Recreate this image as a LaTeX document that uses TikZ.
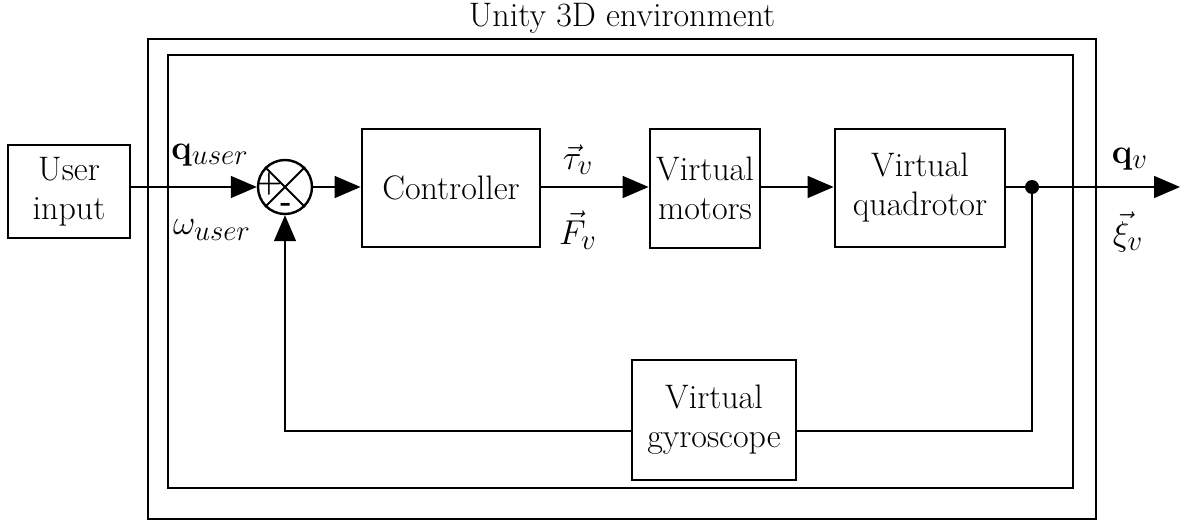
\documentclass[tikz,border=0pt]{standalone}
\usetikzlibrary{arrows.meta}
\begin{document}
\begin{tikzpicture}[x=0.5pt,y=-0.5pt,
  blk/.style={draw,line width=1.4pt,align=center,inner sep=0pt,font=\fontsize{17}{19.5}\selectfont},
  frm/.style={draw,line width=0.8pt},
  con/.style={line width=0.75pt},
  arr/.style={con,-{Triangle[length=13pt,width=11pt]}},
  lbl/.style={font=\fontsize{17}{19.5}\selectfont,inner sep=0pt}]
\useasboundingbox (0,0) rectangle (1189,524);
\draw[frm] (148,39) rectangle (1096,519);
\draw[frm] (168,55) rectangle (1073,488);
\node[lbl] (env) at (622,18) {Unity 3D environment};
\node[blk,minimum width=61pt,minimum height=46.5pt] (user) at (69,191.5) {User\\input};
\node[blk,minimum width=89pt,minimum height=59pt] (ctrl) at (451,188) {Controller};
\node[blk,minimum width=55pt,minimum height=59.5pt] (mot) at (705,188.5) {Virtual\\motors};
\node[blk,minimum width=85pt,minimum height=59pt] (quad) at (920,188) {Virtual\\quadrotor};
\node[blk,minimum width=82pt,minimum height=60pt] (gyro) at (714,420) {Virtual\\gyroscope};
\node[draw,line width=1.2pt,circle,minimum size=27pt,inner sep=0pt] (sum) at (285,187) {};
\draw[line width=1pt] (sum.north west) -- (sum.south east) (sum.north east) -- (sum.south west);
\node[inner sep=0pt,font=\fontsize{15}{15}\selectfont\bfseries] (plus) at (269,184) {+};
\node[inner sep=0pt,font=\fontsize{15}{15}\selectfont\bfseries] (minus) at (286,207) {-};
\coordinate (ue) at (user.east |- sum);
\coordinate (ce) at (ctrl.east |- sum);
\coordinate (mw) at (mot.west |- sum);
\coordinate (me) at (mot.east |- sum);
\coordinate (qw) at (quad.west |- sum);
\coordinate (qe) at (quad.east |- sum);
\coordinate (dot) at (1032,187);
\coordinate (out) at (1180,187);
\coordinate (fb1) at (1032,431);
\coordinate (fb2) at (285,431);
\draw[arr] (ue) -- (sum.west);
\draw[arr] (sum.east) -- (ctrl.west |- sum);
\draw[arr] (ce) -- (mw);
\draw[arr] (me) -- (qw);
\draw[arr] (qe) -- (out);
\fill (dot) circle (3.5pt);
\draw[con] (dot) -- (fb1) -- (gyro.east |- fb1);
\draw[arr] (gyro.west |- fb2) -- (fb2) -- (sum.south);
\node[lbl,font=\fontsize{19}{21}\selectfont] (qu) at (210,155) {$\mathbf{q}_{user}$};
\node[lbl,font=\fontsize{19}{21}\selectfont] (wu) at (212,230) {$\omega_{user}$};
\node[lbl,font=\fontsize{19}{21}\selectfont] (tv) at (578,160) {$\vec{\tau}_v$};
\node[lbl,font=\fontsize{19}{21}\selectfont] (fv) at (578,230) {$\vec{F}_v$};
\node[lbl,font=\fontsize{19}{21}\selectfont] (qv) at (1130,159) {$\mathbf{q}_v$};
\node[lbl,font=\fontsize{19}{21}\selectfont] (xv) at (1128,232) {$\vec{\xi}_v$};
\end{tikzpicture}
\end{document}
